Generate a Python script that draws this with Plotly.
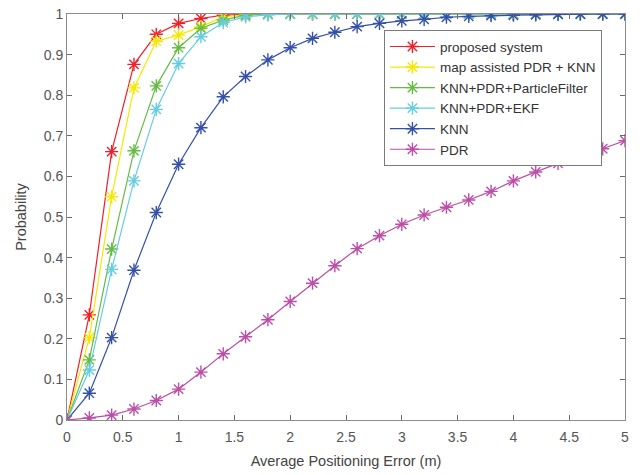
import plotly.graph_objects as go

x_vals = [round(0.2 * i, 1) for i in range(26)]

proposed = [0, 0.259, 0.661, 0.876, 0.950, 0.977, 0.989, 0.997, 0.999, 1, 1, 1, 1, 1, 1, 1, 1, 1, 1, 1, 1, 1, 1, 1, 1, 1]
map_pdr_knn = [0, 0.203, 0.550, 0.818, 0.933, 0.948, 0.969, 0.993, 0.998, 1, 1, 1, 1, 1, 1, 1, 1, 1, 1, 1, 1, 1, 1, 1, 1, 1]
knn_pdr_pf = [0, 0.148, 0.421, 0.663, 0.823, 0.917, 0.965, 0.985, 0.997, 1, 1, 1, 1, 1, 1, 1, 1, 1, 1, 1, 1, 1, 1, 1, 1, 1]
knn_pdr_ekf = [0, 0.123, 0.371, 0.589, 0.765, 0.878, 0.944, 0.979, 0.993, 0.998, 1, 1, 1, 1, 1, 1, 1, 1, 1, 1, 1, 1, 1, 1, 1, 1]
knn = [0, 0.066, 0.203, 0.369, 0.511, 0.630, 0.720, 0.796, 0.846, 0.887, 0.917, 0.940, 0.955, 0.969, 0.977, 0.983, 0.987, 0.992, 0.994, 0.996, 0.997, 0.998, 0.999, 1, 1, 1]
pdr = [0, 0.005, 0.012, 0.027, 0.048, 0.076, 0.118, 0.163, 0.205, 0.247, 0.292, 0.337, 0.380, 0.422, 0.454, 0.482, 0.505, 0.524, 0.542, 0.563, 0.589, 0.611, 0.632, 0.650, 0.668, 0.688]

names = ["proposed system", "map assisted PDR + KNN", "KNN+PDR+ParticleFilter", "KNN+PDR+EKF", "KNN", "PDR"]
colors = ["#f0202a", "#f5e800", "#66bb44", "#66cce0", "#3550a8", "#bb4fa8"]
series = [proposed, map_pdr_knn, knn_pdr_pf, knn_pdr_ekf, knn, pdr]

x_tick_vals = [0, 0.5, 1, 1.5, 2, 2.5, 3, 3.5, 4, 4.5, 5]
x_tick_text = ["0", "0.5", "1", "1.5", "2", "2.5", "3", "3.5", "4", "4.5", "5"]
y_tick_vals = [i / 10 for i in range(11)]
y_tick_text = ["0", "0.1", "0.2", "0.3", "0.4", "0.5", "0.6", "0.7", "0.8", "0.9", "1"]

FONT = "Liberation Sans, Arial, sans-serif"

fig = go.Figure()
for name, col, ys in zip(names, colors, series):
    fig.add_trace(go.Scatter(
        x=x_vals, y=ys, name=name, mode="lines+markers",
        line=dict(color=col, width=1.2),
        marker=dict(symbol="asterisk-open", size=11, color=col, line=dict(color=col, width=1.4)),
    ))

axis_common = dict(
    showline=True, linecolor="#8c8c8c", linewidth=1, mirror="ticks",
    ticks="inside", ticklen=5, tickcolor="#6a6a6a", showgrid=False, zeroline=False,
    automargin=False,
    tickfont=dict(family=FONT, size=14, color="#555555"),
    title_font=dict(family=FONT, size=14.5, color="#444444"),
)

fig.update_layout(
    width=642, height=475,
    margin=dict(l=67, r=17, t=14, b=55),
    plot_bgcolor="white", paper_bgcolor="white",
    xaxis=dict(range=[0, 5], tickvals=x_tick_vals, ticktext=x_tick_text,
               ticklabelstandoff=4,
               title=dict(text="Average Positioning Error (m)", standoff=12), **axis_common),
    yaxis=dict(range=[0, 1], tickvals=y_tick_vals, ticktext=y_tick_text,
               title=dict(text="Probability", standoff=13), **axis_common),
    legend=dict(x=0.568, y=0.96, xanchor="left", yanchor="top",
                bgcolor="white", bordercolor="#7a7a7a", borderwidth=1,
                font=dict(family=FONT, size=13.5, color="#333333"),
                tracegroupgap=0, itemwidth=45),
    showlegend=True,
)

html = fig.to_html(full_html=True, include_plotlyjs=True, config={"displayModeBar": False})
html = html.replace("<body>", '<body style="margin:0;padding:0;">', 1)
with open("out.html", "w", encoding="utf-8") as f:
    f.write(html)
